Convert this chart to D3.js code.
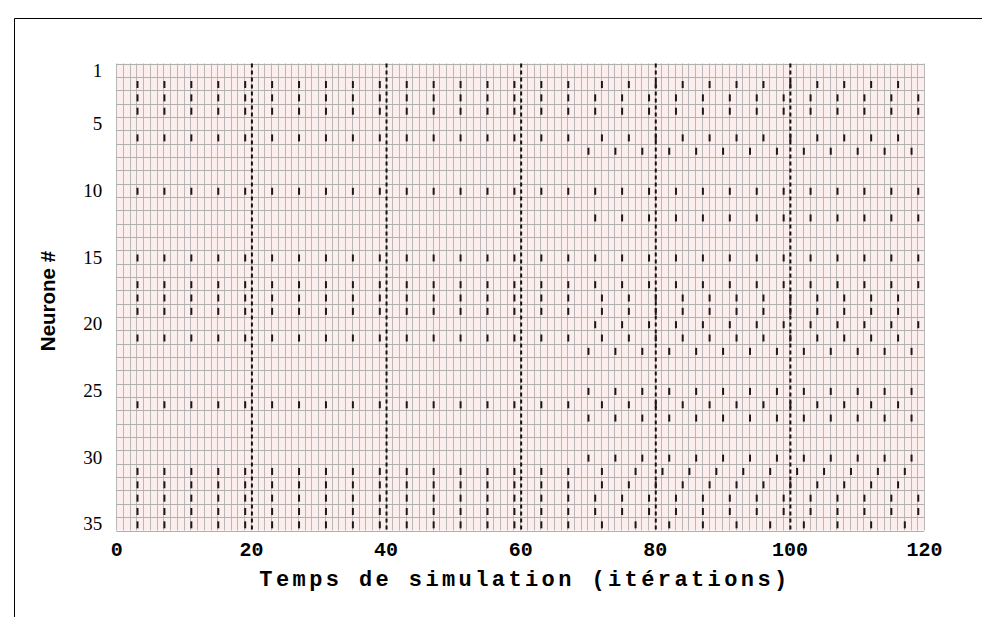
<!DOCTYPE html>
<html>
<head>
<meta charset="utf-8">
<script src="https://cdn.jsdelivr.net/npm/d3@7/dist/d3.min.js"></script>
<style>
  html, body { margin: 0; padding: 0; background: #fff; }
  svg { display: block; }
</style>
</head>
<body>
<svg id="chart" width="982" height="617"></svg>
<script>
// Axis ticks
const xTicks = [0, 20, 40, 60, 80, 100, 120];
const yTicks = [1, 5, 10, 15, 20, 25, 30, 35];
// Reference marks every 20 iterations
const markerTimes = [20, 40, 60, 80, 100];

// Spike trains (iteration of each spike)
const trainRegular = [3,7,11,15,19,23,27,31,35,39,43,47,51,55,59,63,67,71,75,79,83,87,91,95,99,103,107,111,115,119];
const trainShifted = [3,7,11,15,19,23,27,31,35,39,43,47,51,55,59,63,67,72,76,80,84,88,92,96,100,104,108,112,116];
const trainLateA = [70,74,78,82,86,90,94,98,102,106,110,114,118];
const trainLateB = [71,75,79,83,87,91,95,99,103,107,111,115,119];
const trainSlowed = [3,7,11,15,19,23,27,31,35,39,43,47,51,55,59,63,67,72,77,81,85,89,93,97,101,105,109,113,117];
const trainSlowest = [3,7,11,15,19,23,27,31,35,39,43,47,51,55,59,63,67,72,77,82,87,92,97,102,107,112,117];

// Neurons following each train
const neuronsRegular = [3, 4, 10, 15, 17, 33, 34];
const neuronsShifted = [2, 6, 18, 19, 21, 26, 32];
const neuronsLateA = [7, 22, 25, 27, 30];
const neuronsLateB = [12, 20];
const neuronsSlowed = [31];
const neuronsSlowest = [35];

const nNeurons = 35;
const tMax = 120;

const groups = [
  [neuronsRegular, trainRegular],
  [neuronsShifted, trainShifted],
  [neuronsLateA, trainLateA],
  [neuronsLateB, trainLateB],
  [neuronsSlowed, trainSlowed],
  [neuronsSlowest, trainSlowest]
];
const spikes = [];
groups.forEach(([neurons, train]) => {
  neurons.forEach(n => train.forEach(t => spikes.push({ n, t })));
});

const svg = d3.select("#chart");

// Outer frame
svg.append("path")
  .attr("d", "M14.5,617V18.5H982")
  .attr("fill", "none")
  .attr("stroke", "#000")
  .attr("stroke-width", 1);

const x = d3.scaleLinear().domain([0, tMax]).range([116.3, 924]);
const y = d3.scaleLinear().domain([0.5, nNeurons + 0.5]).range([63.5, 530.5]);

const plot = svg.append("g");

// Pink background
plot.append("rect")
  .attr("x", x(0)).attr("y", y(0.5))
  .attr("width", x(tMax) - x(0))
  .attr("height", y(nNeurons + 0.5) - y(0.5))
  .attr("fill", "#fdeeee");

// Cell grid: one column per iteration, one row per neuron
plot.append("g").selectAll("line")
  .data(d3.range(0, tMax + 1))
  .join("line")
  .attr("x1", d => Math.round(x(d)) + 0.5).attr("x2", d => Math.round(x(d)) + 0.5)
  .attr("y1", y(0.5)).attr("y2", y(nNeurons + 0.5))
  .attr("stroke", "#b8b8b8").attr("stroke-width", 1);

plot.append("g").selectAll("line")
  .data(d3.range(0.5, nNeurons + 1, 1))
  .join("line")
  .attr("x1", x(0)).attr("x2", x(tMax))
  .attr("y1", d => Math.round(y(d)) + 0.5).attr("y2", d => Math.round(y(d)) + 0.5)
  .attr("stroke", "#b0b0b0").attr("stroke-width", 1);

// Dashed reference lines
plot.append("g").selectAll("line")
  .data(markerTimes)
  .join("line")
  .attr("x1", d => x(d) + 1).attr("x2", d => x(d) + 1)
  .attr("y1", y(0.5)).attr("y2", y(nNeurons + 0.5))
  .attr("stroke", "#111").attr("stroke-width", 2)
  .attr("stroke-dasharray", "4,3");

// Spikes
plot.append("g").selectAll("rect")
  .data(spikes)
  .join("rect")
  .attr("x", d => x(d.t))
  .attr("y", d => y(d.n) - 2.5)
  .attr("width", 2)
  .attr("height", 7)
  .attr("fill", "#1a1a1a");

// X axis
const xAxis = svg.append("g")
  .attr("transform", `translate(0,${y(nNeurons + 0.5)})`)
  .call(d3.axisBottom(x).tickValues(xTicks).tickSize(0).tickPadding(11).tickFormat(d3.format("d")));
xAxis.select(".domain").remove();
xAxis.selectAll("text")
  .attr("font-family", "'Liberation Mono', 'DejaVu Sans Mono', monospace")
  .attr("font-weight", "bold")
  .attr("font-size", 20)
  .attr("fill", "#000");

// Y axis
const yAxis = svg.append("g")
  .attr("transform", `translate(${x(0)},0)`)
  .call(d3.axisLeft(y).tickValues(yTicks).tickSize(0).tickPadding(14).tickFormat(d3.format("d")));
yAxis.select(".domain").remove();
yAxis.selectAll("text")
  .attr("font-family", "'Liberation Serif', 'Times New Roman', serif")
  .attr("font-size", 19)
  .attr("fill", "#000");

// Axis titles
svg.append("text")
  .attr("x", 525).attr("y", 586)
  .attr("text-anchor", "middle")
  .attr("font-family", "'Liberation Mono', 'DejaVu Sans Mono', monospace")
  .attr("font-weight", "bold")
  .attr("font-size", 22)
  .attr("letter-spacing", 3.4)
  .attr("fill", "#000")
  .text("Temps de simulation (itérations)");

svg.append("text")
  .attr("transform", "translate(55,301) rotate(-90)")
  .attr("text-anchor", "middle")
  .attr("font-family", "'Liberation Sans', Arial, sans-serif")
  .attr("font-weight", "bold")
  .attr("font-size", 20.5)
  .attr("fill", "#000")
  .text("Neurone #");
</script>
</body>
</html>
